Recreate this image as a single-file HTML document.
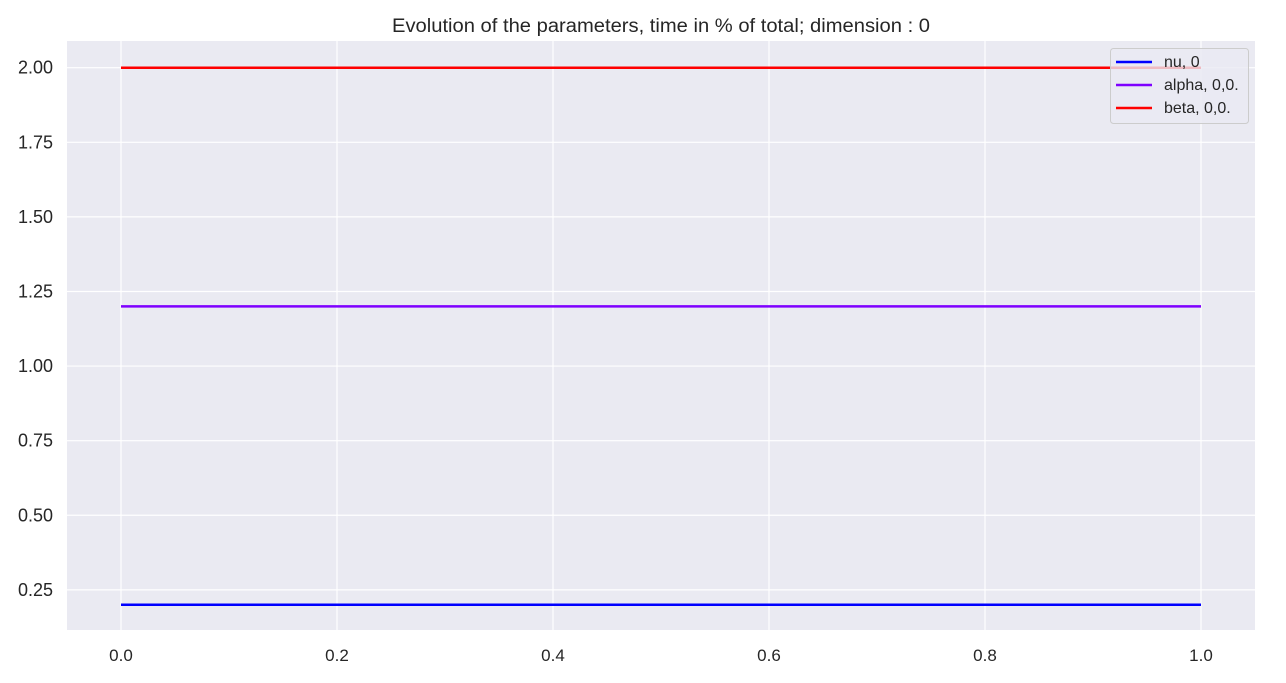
<!DOCTYPE html>
<html>
<head>
<meta charset="utf-8">
<style>
  html,body{margin:0;padding:0;background:#fff;}
  body{width:1286px;height:678px;overflow:hidden;font-family:"Liberation Sans",sans-serif;}
  svg text{font-family:"Liberation Sans",sans-serif;fill:#262626;}
</style>
</head>
<body>
<svg id="chart" width="1286" height="678" xmlns="http://www.w3.org/2000/svg">
  <text x="661" y="32" text-anchor="middle" font-size="19" textLength="538" lengthAdjust="spacingAndGlyphs">Evolution of the parameters, time in % of total; dimension : 0</text>
  <rect x="67" y="41" width="1188" height="589" fill="#eaeaf2"/>
  <g id="grid"></g>
  <g id="series"></g>
  <g id="xticks"></g>
  <g id="yticks"></g>
  <g>
    <rect x="1110.5" y="48.5" width="138" height="75" rx="3" fill="#eaeaf2" fill-opacity="0.8" stroke="#cccccc"/>
    <g>
      <line x1="1116" y1="62" x2="1152" y2="62" stroke="#0000ff" stroke-width="2.5"/>
      <text x="1164" y="67" font-size="16">nu, 0</text>
    </g>
    <g>
      <line x1="1116" y1="85" x2="1152" y2="85" stroke="#7f00ff" stroke-width="2.5"/>
      <text x="1164" y="90" font-size="16">alpha, 0,0.</text>
    </g>
    <g>
      <line x1="1116" y1="108" x2="1152" y2="108" stroke="#ff0000" stroke-width="2.5"/>
      <text x="1164" y="113" font-size="16">beta, 0,0.</text>
    </g>
  </g>
</svg>
<script>
const xTicks = [0.0, 0.2, 0.4, 0.6, 0.8, 1.0];
const xTickLabels = ["0.0","0.2","0.4","0.6","0.8","1.0"];
const yTicks = [0.25, 0.5, 0.75, 1.0, 1.25, 1.5, 1.75, 2.0];
const yTickLabels = ["0.25","0.50","0.75","1.00","1.25","1.50","1.75","2.00"];
const timeValues = [0, 1];
const nuValues = [0.2, 0.2];
const alphaValues = [1.2, 1.2];
const betaValues = [2.0, 2.0];

const NS = "http://www.w3.org/2000/svg";
const X0 = 67, X1 = 1255, Y0 = 41, Y1 = 630;
const xMin = -0.05, xMax = 1.05, yMin = 0.1155, yMax = 2.0895;
function xs(v){ return X0 + (v - xMin) / (xMax - xMin) * (X1 - X0); }
function ys(v){ return Y1 - (v - yMin) / (yMax - yMin) * (Y1 - Y0); }
function mk(tag, attrs, parent){
  const e = document.createElementNS(NS, tag);
  for (const k in attrs) e.setAttribute(k, attrs[k]);
  parent.appendChild(e);
  return e;
}
const grid = document.getElementById("grid");
const xt = document.getElementById("xticks");
const yt = document.getElementById("yticks");
xTicks.forEach((v, i) => {
  const gl = mk("line", {x1: xs(v), x2: xs(v), y1: Y0, y2: Y1, stroke: "#ffffff", "stroke-width": 1.2}, grid);
  
  
  const t = mk("text", {x: xs(v), y: 661, "text-anchor": "middle", "font-size": 17}, xt);
  t.textContent = xTickLabels[i];
  
  
});
yTicks.forEach((v, i) => {
  const gl = mk("line", {x1: X0, x2: X1, y1: ys(v), y2: ys(v), stroke: "#ffffff", "stroke-width": 1.2}, grid);
  
  
  const t = mk("text", {x: 53, y: ys(v) + 6, "text-anchor": "end", "font-size": 18}, yt);
  t.textContent = yTickLabels[i];
  
  
});
const series = document.getElementById("series");
function drawLine(vals, color, name){
  const pts = timeValues.map((t, i) => xs(t) + "," + ys(vals[i])).join(" ");
  const p = mk("polyline", {points: pts, fill: "none", stroke: color, "stroke-width": 2.5}, series);
  
  
}
drawLine(nuValues, "#0000ff", "nu-line");
drawLine(alphaValues, "#7f00ff", "alpha-line");
drawLine(betaValues, "#ff0000", "beta-line");
</script>
</body>
</html>
